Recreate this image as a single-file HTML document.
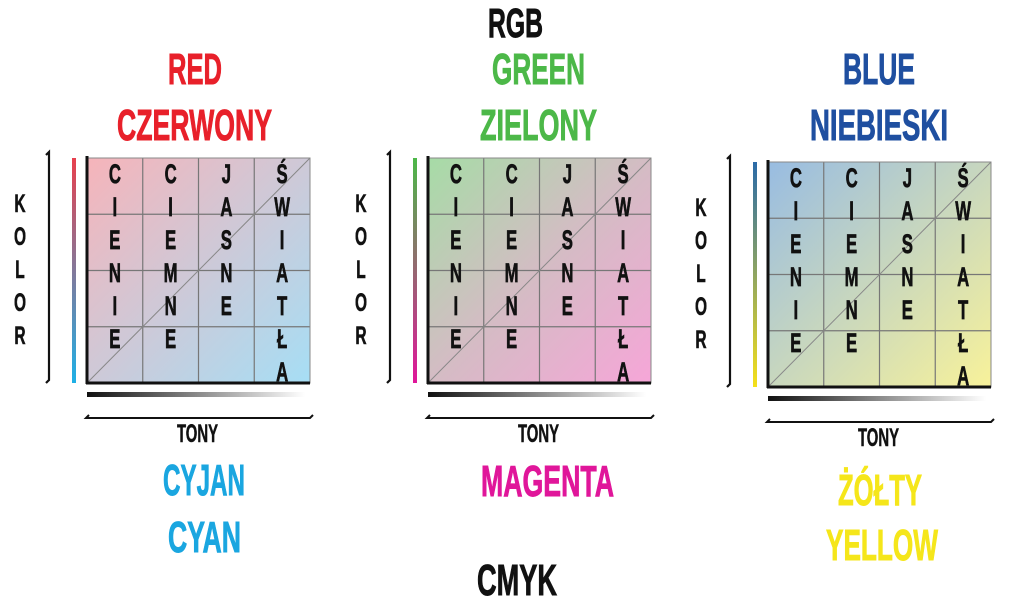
<!DOCTYPE html>
<html><head><meta charset="utf-8"><style>
html,body{margin:0;padding:0;background:#fff;}
svg{display:block;}
text{font-family:"Liberation Sans",sans-serif;font-weight:bold;}
.t{stroke-width:0.9px;}
</style></head><body>
<svg id="s" width="1024" height="609" viewBox="0 0 1024 609" xmlns="http://www.w3.org/2000/svg">
<defs>
<linearGradient id="gr" x1="0" y1="0" x2="1" y2="1"><stop offset="0" stop-color="#f6b4ba"/><stop offset="1" stop-color="#a6def5"/></linearGradient>
<linearGradient id="gg" x1="0" y1="0" x2="1" y2="1"><stop offset="0" stop-color="#a6dca6"/><stop offset="0.5" stop-color="#d4bcc4"/><stop offset="1" stop-color="#f6a6d8"/></linearGradient>
<linearGradient id="gb" x1="0" y1="0" x2="1" y2="1"><stop offset="0" stop-color="#98bce2"/><stop offset="1" stop-color="#f8f29a"/></linearGradient>
<linearGradient id="br" x1="0" y1="0" x2="0" y2="1"><stop offset="0" stop-color="#e8404e"/><stop offset="1" stop-color="#1eb0e6"/></linearGradient>
<linearGradient id="bg" x1="0" y1="0" x2="0" y2="1"><stop offset="0" stop-color="#4cb848"/><stop offset="1" stop-color="#e0169a"/></linearGradient>
<linearGradient id="bb" x1="0" y1="0" x2="0" y2="1"><stop offset="0" stop-color="#2a6aa8"/><stop offset="1" stop-color="#f5e01a"/></linearGradient>
<linearGradient id="tn" x1="0" y1="0" x2="1" y2="0"><stop offset="0" stop-color="#111"/><stop offset="1" stop-color="#fff"/></linearGradient>
</defs>
<g id="g"></g>
<text class="t" stroke="#111" x="488" y="37" font-size="41" textLength="55" lengthAdjust="spacingAndGlyphs" fill="#111">RGB</text>
<text class="t" stroke="#e8202a" x="168" y="84" font-size="44" textLength="54" lengthAdjust="spacingAndGlyphs" fill="#e8202a">RED</text>
<text class="t" stroke="#e8202a" x="117" y="140" font-size="44" textLength="155" lengthAdjust="spacingAndGlyphs" fill="#e8202a">CZERWONY</text>
<text class="t" stroke="#4cb848" x="492" y="84" font-size="44" textLength="93" lengthAdjust="spacingAndGlyphs" fill="#4cb848">GREEN</text>
<text class="t" stroke="#4cb848" x="480" y="140" font-size="44" textLength="117" lengthAdjust="spacingAndGlyphs" fill="#4cb848">ZIELONY</text>
<text class="t" stroke="#1f4fa0" x="843" y="84" font-size="44" textLength="72" lengthAdjust="spacingAndGlyphs" fill="#1f4fa0">BLUE</text>
<text class="t" stroke="#1f4fa0" x="810" y="140" font-size="44" textLength="138" lengthAdjust="spacingAndGlyphs" fill="#1f4fa0">NIEBIESKI</text>
<text class="t" stroke="#1aa6e0" x="163" y="495" font-size="44" textLength="82" lengthAdjust="spacingAndGlyphs" fill="#1aa6e0">CYJAN</text>
<text class="t" stroke="#1aa6e0" x="168" y="552" font-size="44" textLength="73" lengthAdjust="spacingAndGlyphs" fill="#1aa6e0">CYAN</text>
<text class="t" stroke="#e0169a" x="481" y="496" font-size="44" textLength="133" lengthAdjust="spacingAndGlyphs" fill="#e0169a">MAGENTA</text>
<text class="t" stroke="#f5e61a" x="838" y="505" font-size="44" textLength="84" lengthAdjust="spacingAndGlyphs" fill="#f5e61a">ŻÓŁTY</text>
<text class="t" stroke="#f5e61a" x="826" y="560" font-size="44" textLength="112" lengthAdjust="spacingAndGlyphs" fill="#f5e61a">YELLOW</text>
<text class="t" stroke="#111" x="477" y="595" font-size="44" textLength="80" lengthAdjust="spacingAndGlyphs" fill="#111">CMYK</text>
</svg>
<script>
var NS="http://www.w3.org/2000/svg",G=document.getElementById("g");
function el(t,a,txt){var e=document.createElementNS(NS,t);for(var k in a)e.setAttribute(k,a[k]);if(txt)e.textContent=txt;G.appendChild(e);return e;}
function panel(x,y,grad,bar,tonyY){
 var w=223,h=225;
 el("rect",{x:x,y:y,width:w,height:h,fill:"url(#"+grad+")"});
 for(var i=1;i<4;i++){el("line",{x1:x+i*w/4,y1:y,x2:x+i*w/4,y2:y+h,stroke:"#777","stroke-width":1.2});
  el("line",{x1:x,y1:y+i*h/4,x2:x+w,y2:y+i*h/4,stroke:"#777","stroke-width":1.2});}
 el("line",{x1:x,y1:y+h,x2:x+w,y2:y,stroke:"#888","stroke-width":1});
 el("rect",{x:x,y:y,width:w,height:h,fill:"none",stroke:"#888","stroke-width":1});
 el("line",{x1:x,y1:y-2,x2:x,y2:y+h+1,stroke:"#111","stroke-width":3});
 el("line",{x1:x-1,y1:y+h,x2:x+w,y2:y+h,stroke:"#111","stroke-width":3});
 el("rect",{x:x-15,y:y,width:4,height:h,fill:"url(#"+bar+")"});
 el("path",{d:"M"+(x-41)+" "+(y-3)+" l3 -3 v"+(h+3)+" l-3 3",fill:"none",stroke:"#111","stroke-width":2.2});
 "KOLOR".split("").forEach(function(c,i){el("text",{x:x-67,y:y+54+i*33,"font-size":25,"text-anchor":"middle",fill:"#111",stroke:"#111","stroke-width":0.6,transform:"translate("+(x-67)+",0) scale(0.62,1) translate("+(-(x-67))+",0)"},c);});
 el("rect",{x:x,y:y+h+9,width:w-5,height:5,fill:"url(#tn)"});
 el("path",{d:"M"+(x+2)+" "+(y+h+32)+" l-3 3 H"+(x+w)+" l3 -3",fill:"none",stroke:"#111","stroke-width":2});
 el("text",{x:x+w/2-1,y:tonyY,"font-size":25,"text-anchor":"middle",fill:"#111",stroke:"#111","stroke-width":0.5,textLength:41,lengthAdjust:"spacingAndGlyphs"},"TONY");
 var cols=["CIENIE","CIEMNE","JASNE","ŚWIATŁA"];
 cols.forEach(function(s,ci){var cx=x+w/8+ci*w/4;s.split("").forEach(function(c,i){
  el("text",{x:cx,y:y+25+i*33,"font-size":27,"text-anchor":"middle",fill:"#111",stroke:"#111","stroke-width":0.7,transform:"translate("+cx+",0) scale(0.62,1) translate("+(-cx)+",0)"},c);});});
}
panel(87,158,"gr","br",442);
panel(428,158,"gg","bg",442);
panel(768,162,"gb","bb",446);
</script>
</body></html>
